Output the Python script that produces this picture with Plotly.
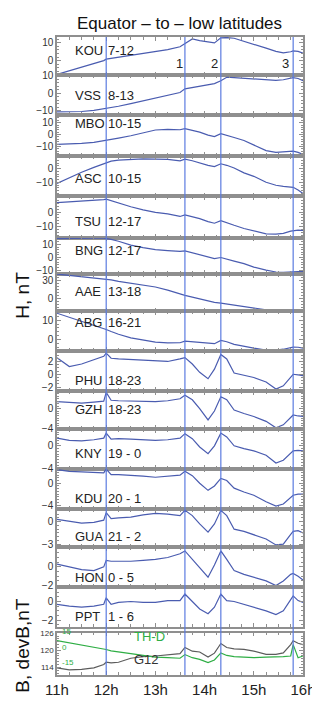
import plotly.graph_objects as go

# common UT sample times (hours)
T = [11.0, 11.25, 11.5, 11.75, 11.95, 12.0, 12.1, 12.25, 12.5, 12.75, 13.0, 13.25, 13.5, 13.6, 13.75,
     13.9, 14.07, 14.2, 14.33, 14.45, 14.6, 14.8, 15.0, 15.25, 15.45, 15.6, 15.75, 15.8, 15.9, 16.0]

STATIONS = ["KOU", "VSS", "MBO", "ASC", "TSU", "BNG", "AAE", "ABG",
            "PHU", "GZH", "KNY", "KDU", "GUA", "HON", "PPT"]
LOCAL_TIMES = ["7-12", "8-13", "10-15", "10-15", "12-17", "12-17", "13-18", "16-21",
               "18-23", "18-23", "19 - 0", "20 - 1", "21 - 2", "0 - 5", "1 - 6"]

# H component, nT
KOU = [-7.8, -5.8, -3.8, -1.8, 0.0, 0.8, 1.2, 1.8, 2.8, 3.8, 5.0, 6.2, 7.8, 9.5, 12.2,
       11.3, 10.5, 10.0, 12.8, 13.0, 12.6, 11.0, 9.2, 7.0, 5.2, 4.4, 5.0, 5.5, 5.2, 4.2]
VSS = [-10.5, -10.6, -10.3, -9.7, -8.8, -8.4, -8.0, -7.3, -5.8, -4.3, -2.8, -1.3, 0.5, 2.6, 3.4,
       4.1, 4.9, 5.6, 7.2, 9.2, 9.0, 8.6, 8.4, 7.8, 7.4, 7.8, 8.8, 9.0, 8.5, 7.2]
MBO = [-8.3, -8.0, -7.4, -6.6, -5.4, -4.5, -4.0, -3.0, -1.0, 1.5, 3.8, 4.4, 4.0, 5.0, 3.6,
       2.0, -0.5, -1.7, 0.8, -0.5, -2.5, -5.0, -9.0, -13.5, -15.0, -14.5, -14.2, -14.0, -15.0, -16.7]
ASC = [-10.7, -6.5, -2.5, 1.0, 3.8, 4.3, 5.5, 6.3, 7.0, 7.2, 7.0, 6.8, 5.7, 7.0, 5.8,
       4.2, 2.5, 1.6, 3.6, 2.5, 0.5, -3.0, -5.5, -9.8, -12.0, -12.8, -13.3, -13.5, -15.5, -18.0]
TSU = [6.4, 6.8, 7.2, 7.6, 8.4, 8.7, 7.6, 6.0, 3.6, 1.5, -0.2, -1.3, -3.0, -2.0, -3.0,
       -4.5, -6.5, -7.6, -5.8, -7.0, -9.0, -11.2, -13.0, -14.8, -15.0, -14.5, -13.0, -12.7, -12.3, -12.5]
BNG = [14.5, 14.8, 15.0, 15.0, 15.0, 14.8, 14.0, 12.5, 9.5, 7.5, 6.0, 5.2, 4.6, 5.0, 3.5,
       2.0, 0.0, -1.0, -0.2, -1.2, -3.0, -5.0, -7.7, -10.0, -11.5, -11.8, -11.6, -11.5, -11.3, -11.0]
AAE = [41.5, 39.5, 37.5, 35.3, 33.3, 33.0, 31.5, 29.0, 25.5, 22.5, 19.4, 14.0, 7.0, 5.0, 2.0,
       -1.0, -4.5, -6.7, -8.0, -9.5, -11.5, -14.0, -16.7, -19.5, -21.0, -21.5, -21.7, -21.7, -21.7, -21.5]
ABG = [13.5, 11.5, 9.5, 7.5, 5.6, 5.2, 4.2, 2.8, 1.0, 0.0, -1.2, -1.6, -1.5, -0.7, -1.0,
       -1.6, -2.0, -2.0, -0.3, -1.0, -2.3, -3.4, -4.2, -5.2, -5.2, -4.8, -3.8, -3.7, -3.8, -4.2]
PHU = [2.6, 1.2, 1.6, 2.2, 2.8, 3.3, 2.5, 2.4, 2.3, 2.2, 2.0, 2.0, 2.4, 2.6, 1.6,
       0.3, -0.7, 0.8, 3.1, 2.4, 0.2, -0.2, -0.5, -1.2, -2.3, -1.8, -0.4, 0.0, -0.1, -0.2]
GZH = [1.4, 1.2, 1.1, 1.3, 1.5, 3.3, 1.7, 1.6, 1.5, 1.4, 1.4, 1.6, 2.0, 2.7, 1.8,
       0.0, -2.3, -0.5, 2.4, 1.8, -0.3, -1.0, -1.6, -2.6, -3.9, -3.3, -1.8, -1.3, -1.5, -1.6]
KNY = [1.4, 1.0, 0.9, 1.1, 1.4, 2.3, 1.2, 1.3, 1.2, 1.1, 1.0, 1.1, 1.4, 2.2, 1.3,
       -0.2, -1.4, 0.0, 2.3, 1.6, 0.0, -0.5, -0.9, -1.7, -3.1, -2.6, -1.2, -0.9, -0.8, -0.9]
KDU = [2.5, 2.2, 2.1, 2.0, 1.9, 2.6, 1.6, 1.6, 1.5, 1.3, 1.1, 1.3, 1.5, 2.2, 1.4,
       0.0, -1.3, -0.5, 0.9, 0.5, -0.9, -1.6, -2.2, -3.4, -4.2, -3.8, -2.6, -2.2, -2.0, -2.0]
GUA = [0.3, 0.0, -0.2, -0.1, 0.2, 1.2, 0.4, 0.5, 0.6, 0.9, 1.1, 1.0, 0.8, 1.5, 0.8,
       -0.3, -1.4, -0.3, 1.5, 0.8, -1.0, -1.3, -1.7, -2.3, -3.1, -3.0, -1.7, -1.3, -1.2, -1.5]
HON = [0.3, 0.0, -0.3, -0.4, 0.0, 0.7, 0.6, 0.6, 0.6, 0.7, 0.8, 1.0, 1.4, 1.7, 0.8,
       -0.2, -1.1, 0.2, 1.7, 0.8, -0.4, -0.8, -1.1, -1.5, -2.0, -1.5, -0.8, -0.7, -1.0, -1.4]
PPT = [-0.3, -0.5, -0.6, -0.5, -0.3, 0.4, -0.3, -0.1, 0.0, -0.1, -0.1, 0.1, 0.1, 0.8, 0.0,
       -0.8, -1.3, -0.6, 0.8, 0.1, 0.0, -0.3, -0.6, -1.0, -1.4, -1.0, 0.2, 0.6, 0.1, -0.1]

# satellite field, nT
G12 = [113.8, 113.1, 113.3, 113.8, 115.0, 115.8, 115.6, 115.8, 117.2, 117.8, 118.0, 118.4, 118.8, 121.0, 119.7,
       119.4, 117.6, 119.0, 122.4, 121.0, 120.5, 120.3, 119.7, 118.6, 118.6, 119.1, 122.0, 123.4, 122.5, 122.0]
THD = [123.4, 122.6, 122.0, 121.2, 120.5, 120.3, 119.8, 119.5, 118.8, 118.2, 117.6, 117.4, 117.2, 118.5, 117.4,
       116.8, 115.7, 116.6, 119.1, 118.2, 117.8, 117.6, 117.4, 117.6, 117.6, 117.8, 118.0, 122.0, 117.4, 118.0]

H_SERIES = [KOU, VSS, MBO, ASC, TSU, BNG, AAE, ABG, PHU, GZH, KNY, KDU, GUA, HON, PPT]

Y_TICKS = [[0, 10], [-10, 0, 10], [-10, 0, 10], [-10, 0], [-10, 0], [-10, 0, 10], [0, 30], [0, 10],
           [-2, 0, 2], [-4, 0], [-4, 0], [-4, 0], [-3, 0], [-2, 0], [-2, 0]]
Y_RANGES = [[-8.3, 13.3], [-12.1, 10.3], [-18, 16.7], [-20, 9.3], [-17.3, 10.7], [-13, 15.4], [-22, 41.7],
            [-5.5, 14.5], [-2.6, 3.7], [-4.2, 3.6], [-4.1, 3.0], [-4.7, 2.7], [-3.4, 1.7], [-2.1, 2.1], [-2.7, 1.6]]
Y_MINOR = [2, 2, 2, 2, 2, 2, 5, 2, 0.5, 0.5, 0.5, 0.5, 0.5, 0.5, 0.5]

MARKERS = [12.0, 13.6, 14.33, 15.8]
HOURS = [11, 12, 13, 14, 15, 16]

# ---- layout geometry (pixels) ----
W, H = 320, 702
TOP, BOT, LEFT, RIGHT = 29, 678, 49, 303
panel_top = [29, 68, 108, 150, 191, 233, 270, 308, 348, 389, 428, 468, 509, 548, 588]
panel_bot = panel_top[1:] + [629]
label_y = [43, 88, 117, 173, 217, 246, 288, 319, 378, 408, 453, 498, 537, 579, 618]
PH = BOT - TOP


def py(pix):
    return (BOT - pix) / PH


def px(pix):
    return (pix - LEFT) / (RIGHT - LEFT)


FONT = "Liberation Sans, Arial, sans-serif"
LINE_BLUE = "#4a5cb0"
FRAME = "#8f8f8f"

fig = go.Figure()
layout = {}
annotations = []

n_panels = len(STATIONS) + 1
for i in range(n_panels):
    k = "" if i == 0 else str(i + 1)
    xa, ya = "x" + k, "y" + k
    last = i == n_panels - 1
    if not last:
        top, bot = panel_top[i], panel_bot[i]
        fig.add_trace(go.Scatter(x=T, y=H_SERIES[i], xaxis=xa, yaxis=ya, mode="lines",
                                 line=dict(color=LINE_BLUE, width=1.2), showlegend=False))
        yt, yr, ym = Y_TICKS[i], Y_RANGES[i], Y_MINOR[i]
        tsize = 10
    else:
        top, bot = 635, 678
        fig.add_trace(go.Scatter(x=T, y=G12, xaxis=xa, yaxis=ya, mode="lines",
                                 line=dict(color="#5c5c5c", width=1.2), showlegend=False))
        fig.add_trace(go.Scatter(x=T, y=THD, xaxis=xa, yaxis=ya, mode="lines",
                                 line=dict(color="#2fae45", width=1.2), showlegend=False))
        yt, yr, ym = [114, 120, 126], [111.3, 126.2], 1
        tsize = 8
    layout["xaxis" + k] = dict(
        domain=[0, 1], anchor=ya, range=[11, 16], matches=None if i == 0 else "x",
        tickvals=HOURS, ticktext=[f"{h}h" for h in HOURS], showticklabels=last,
        ticks="inside", ticklen=4, tickcolor=FRAME, mirror="ticks",
        showline=True, linecolor=FRAME, linewidth=1.5, showgrid=False, zeroline=False,
        minor=dict(dtick=0.25, ticks="inside", ticklen=3, tickcolor=FRAME),
        tickfont=dict(family=FONT, size=15, color="#222"),
    )
    layout["yaxis" + k] = dict(
        domain=[py(bot), py(top)], anchor=xa, range=yr, tickvals=yt,
        ticks="inside", ticklen=4, tickcolor=FRAME, mirror="ticks",
        showline=True, linecolor=FRAME, linewidth=1.5, showgrid=False, zeroline=False,
        minor=dict(dtick=ym, ticks="inside", ticklen=2, tickcolor=FRAME),
        tickfont=dict(family=FONT, size=tsize, color="#333"),
    )

# station and local-time labels
for name, lt, yp in zip(STATIONS, LOCAL_TIMES, label_y):
    annotations.append(dict(text=name, x=px(66), y=py(yp), xref="paper", yref="paper",
                            xanchor="left", yanchor="middle", showarrow=False,
                            font=dict(family=FONT, size=13, color="#222")))
    annotations.append(dict(text=lt, x=px(100), y=py(yp), xref="paper", yref="paper",
                            xanchor="left", yanchor="middle", showarrow=False,
                            font=dict(family=FONT, size=13, color="#222")))

# event numbers
for num, xp in zip(["1", "2", "3"], [175, 212, 285]):
    annotations.append(dict(text=num, x=px(xp), y=py(56), xref="paper", yref="paper",
                            xanchor="center", yanchor="middle", showarrow=False,
                            font=dict(family=FONT, size=13, color="#222")))

# satellite panel labels
annotations += [
    dict(text="TH-D", x=px(126), y=py(649), xref="paper", yref="paper", xanchor="left",
         showarrow=False, font=dict(family=FONT, size=13, color="#2fae45")),
    dict(text="G12", x=px(126), y=py(672), xref="paper", yref="paper", xanchor="left",
         showarrow=False, font=dict(family=FONT, size=13, color="#333")),
]
for txt, yp in zip(["15", "0", "-15"], [640, 657, 672]):
    annotations.append(dict(text=txt, x=px(52), y=py(yp), xref="paper", yref="paper",
                            xanchor="left", showarrow=False,
                            font=dict(family=FONT, size=8, color="#2fae45")))

# title and axis titles
annotations += [
    dict(text="Equator – to – low latitudes", x=px(175), y=py(15), xref="paper", yref="paper",
         xanchor="center", yanchor="middle", showarrow=False,
         font=dict(family=FONT, size=17, color="#111")),
    dict(text="H, nT", x=px(13), y=py(292), xref="paper", yref="paper", textangle=-90,
         xanchor="center", yanchor="middle", showarrow=False,
         font=dict(family=FONT, size=19, color="#111")),
    dict(text="B, devB,nT", x=px(13), y=py(648), xref="paper", yref="paper", textangle=-90,
         xanchor="center", yanchor="middle", showarrow=False,
         font=dict(family=FONT, size=19, color="#111")),
]

shapes = [dict(type="line", xref="x", yref="paper", x0=m, x1=m, y0=0, y1=1,
               line=dict(color="#5b7be0", width=1.2)) for m in MARKERS]

fig.update_layout(
    width=W, height=H,
    margin=dict(l=LEFT, r=W - RIGHT, t=TOP, b=H - BOT),
    paper_bgcolor="white", plot_bgcolor="white",
    annotations=annotations, shapes=shapes, showlegend=False,
    **layout,
)

fig.write_html("out.html")
